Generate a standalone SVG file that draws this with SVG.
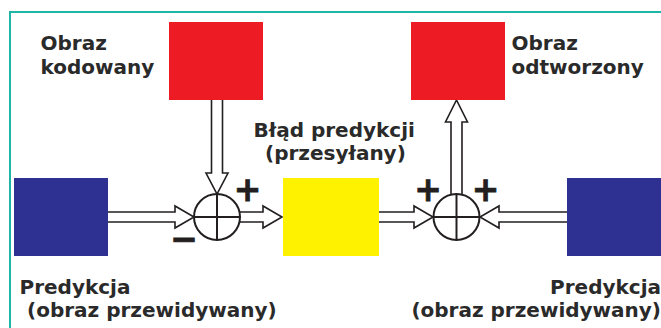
<svg xmlns="http://www.w3.org/2000/svg" width="661" height="328" viewBox="0 0 661 328">
  <style>
    .frame { stroke: #1fb5a6; stroke-width: 2; fill: none; }
    .red { fill: #ed1c24; }
    .blue { fill: #2e3192; }
    .yellow { fill: #fff200; }
    .lbl { font-family: "DejaVu Sans", "Liberation Sans", sans-serif; font-weight: bold; font-size: 20px; fill: #2a2a2a; }
    .sign { font-family: "DejaVu Sans", "Liberation Sans", sans-serif; font-weight: bold; font-size: 33px; fill: #231f20; text-anchor: middle; stroke: #231f20; stroke-width: 0.8; }
    .arrow { fill: #fff; stroke: #231f20; stroke-width: 1.6; stroke-linejoin: miter; }
    .sum circle { fill: #fff; stroke: #231f20; stroke-width: 2; }
    .sum line { stroke: #231f20; stroke-width: 2; }
  </style>

  <!-- frame -->
  <path class="frame" d="M10,328 V12 H661"/>

  <!-- connectors: hollow block arrows -->
  <g id="connectors">
    <!-- coded image down into the first adder -->
    <path class="arrow" d="M211.5,100 V173 H206 L217,194 L228,173 H222.5 V100"/>
    <!-- prediction into the first adder -->
    <path class="arrow" d="M108,212 H175 V206 L194,217 L175,228 V222 H108"/>
    <!-- first adder to prediction error -->
    <path class="arrow" d="M240,212 H263 V206 L282,217 L263,228 V222 H240"/>
    <!-- prediction error into the second adder -->
    <path class="arrow" d="M379,212 H414 V206 L433,217 L414,228 V222 H379"/>
    <!-- prediction into the second adder from the right -->
    <path class="arrow" d="M567,212 H499 V206 L480,217 L499,228 V222 H567"/>
    <!-- second adder up to reconstructed image -->
    <path class="arrow" d="M451,194 V122 H445.5 L456.5,100 L467.5,122 H462 V194"/>
  </g>

  <!-- adders -->
  <g id="adder1" class="sum">
    <circle cx="217" cy="217" r="23"/>
    <line x1="194" y1="217" x2="240" y2="217"/>
    <line x1="217" y1="194" x2="217" y2="240"/>
    <text class="sign" x="247.5" y="201">+</text>
    <text class="sign" x="184" y="250">−</text>
  </g>
  <g id="adder2" class="sum">
    <circle cx="456.5" cy="217" r="23"/>
    <line x1="433.5" y1="217" x2="479.5" y2="217"/>
    <line x1="456.5" y1="194" x2="456.5" y2="240"/>
    <text class="sign" x="428" y="201">+</text>
    <text class="sign" x="485.5" y="201">+</text>
  </g>

  <!-- blocks -->
  <g id="coded">
    <rect class="red" x="169" y="22" width="94" height="78"/>
    <text class="lbl" x="40.5" y="50">Obraz</text>
    <text class="lbl" x="40.5" y="73.5">kodowany</text>
  </g>
  <g id="reconstructed">
    <rect class="red" x="411" y="22" width="94" height="78"/>
    <text class="lbl" x="511.5" y="50">Obraz</text>
    <text class="lbl" x="511.5" y="73.5">odtworzony</text>
  </g>
  <g id="prediction-left">
    <rect class="blue" x="14" y="178" width="94" height="78"/>
    <text class="lbl" x="19.5" y="293.5">Predykcja</text>
    <text class="lbl" x="27" y="317">(obraz przewidywany)</text>
  </g>
  <g id="error">
    <rect class="yellow" x="283" y="178" width="96" height="78"/>
    <text class="lbl" x="253.5" y="136.5">Błąd predykcji</text>
    <text class="lbl" x="265" y="160">(przesyłany)</text>
  </g>
  <g id="prediction-right">
    <rect class="blue" x="567" y="178" width="94" height="78"/>
    <text class="lbl" x="661" y="293.5" text-anchor="end">Predykcja</text>
    <text class="lbl" x="661" y="317" text-anchor="end">(obraz przewidywany)</text>
  </g>
</svg>
